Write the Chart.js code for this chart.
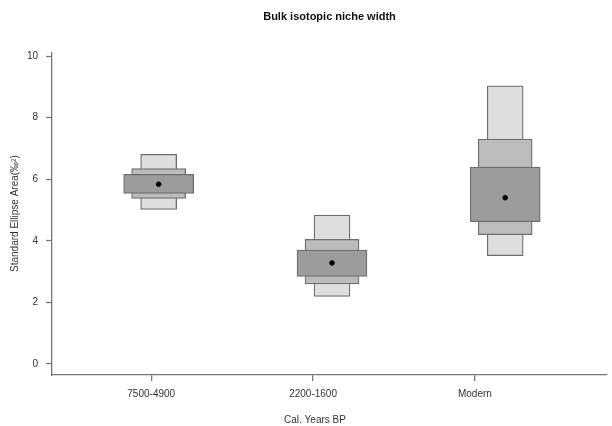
<!DOCTYPE html>
<html>
<head>
<meta charset="utf-8">
<script src="https://cdn.jsdelivr.net/npm/chart.js@4"></script>
<style>
  html, body { margin: 0; padding: 0; background: #fff; }
  #wrap { width: 612px; height: 426px; }
</style>
</head>
<body>
<div id="wrap"><canvas id="nicheChart" width="612" height="426"></canvas></div>
<script>
// Группы (ось X)
const groups = ['7500-4900', '2200-1600', 'Modern'];
const groupTicks = [1, 2, 3];
// centres of the boxes on the x scale
const groupPos = [1.046, 2.117, 3.187];

// SEA.B: mode and credible intervals
const seaMode = [5.84, 3.28, 5.40];
const ci95Low = [5.02, 2.19, 3.52];
const ci95High = [6.81, 4.84, 9.04];
const ci75Low = [5.38, 2.60, 4.20];
const ci75High = [6.35, 4.05, 7.31];
const ci50Low = [5.54, 2.84, 4.62];
const ci50High = [6.16, 3.70, 6.40];

const yTicks = [0, 2, 4, 6, 8, 10];

const axisColor = '#777777';
const textColor = '#333333';
const boxBorder = '#6e6e6e';

function boxData(lows, highs) {
    return groupPos.map((x, i) => ({ x: x, y: [lows[i], highs[i]] }));
}

function boxSet(label, lows, highs, color, width, order) {
    return {
        type: 'bar',
        label: label,
        data: boxData(lows, highs),
        backgroundColor: color,
        borderColor: boxBorder,
        borderWidth: 1.3,
        borderSkipped: false,
        barThickness: width,
        grouped: false,
        order: order
    };
}

// x-axis title sits a bit left of the plot centre, like the original
const xTitlePlugin = {
    id: 'xTitle',
    afterDraw(chart) {
        const ctx = chart.ctx;
        const area = chart.chartArea;
        ctx.save();
        ctx.font = '10px "Liberation Sans", Arial, sans-serif';
        ctx.fillStyle = textColor;
        ctx.textAlign = 'center';
        ctx.textBaseline = 'middle';
        ctx.fillText('Cal. Years BP', area.left + 263, 420);
        ctx.restore();
    }
};

const ctx = document.getElementById('nicheChart');
new Chart(ctx.getContext('2d'), {
    type: 'bar',
    data: {
        datasets: [
            {
                type: 'scatter',
                label: 'Mode',
                data: groupPos.map((x, i) => ({ x: x, y: seaMode[i] })),
                backgroundColor: '#000',
                borderColor: '#000',
                pointRadius: 2.3,
                order: 0
            },
            boxSet('50%', ci50Low, ci50High, '#9c9c9c', 70, 1),
            boxSet('75%', ci75Low, ci75High, '#bcbcbc', 54, 2),
            boxSet('95%', ci95Low, ci95High, '#dedede', 36, 3)
        ]
    },
    options: {
        responsive: false,
        animation: false,
        layout: { padding: { top: 0, right: 1, left: 0, bottom: 0 } },
        plugins: {
            legend: { display: false },
            tooltip: { enabled: false },
            title: {
                display: true,
                text: 'Bulk isotopic niche width',
                fullSize: false,
                color: '#111',
                font: { family: '"Liberation Sans", Arial, sans-serif', size: 11, weight: 'bold' },
                padding: { top: 10, bottom: 29 }
            }
        },
        scales: {
            x: {
                type: 'linear',
                offset: false,
                min: 0.387,
                max: 3.816,
                afterBuildTicks: (scale) => {
                    scale.ticks = groupTicks.map(v => ({ value: v }));
                },
                afterFit: (scale) => { scale.height = 51; },
                ticks: {
                    color: textColor,
                    font: { family: '"Liberation Sans", Arial, sans-serif', size: 10 },
                    padding: 7,
                    maxRotation: 0,
                    autoSkip: false,
                    callback: (v) => groups[groupTicks.indexOf(v)] || ''
                },
                grid: {
                    offset: false,
                    display: true,
                    drawOnChartArea: false,
                    drawTicks: true,
                    tickLength: 6,
                    color: axisColor,
                    tickColor: axisColor,
                    tickWidth: 1.3,
                    lineWidth: 1.3
                },
                border: { display: true, color: axisColor, width: 1.3 }
            },
            y: {
                type: 'linear',
                min: -0.36,
                max: 10.13,
                afterBuildTicks: (scale) => {
                    scale.ticks = yTicks.map(v => ({ value: v }));
                },
                afterFit: (scale) => { scale.width = 52; },
                ticks: {
                    color: textColor,
                    font: { family: '"Liberation Sans", Arial, sans-serif', size: 10 },
                    padding: 8
                },
                grid: {
                    drawOnChartArea: false,
                    drawTicks: true,
                    tickLength: 6,
                    color: axisColor,
                    tickWidth: 1.3
                },
                border: { display: true, color: axisColor, width: 1.3 },
                title: {
                    display: true,
                    text: 'Standard Ellipse Area(‰²)',
                    color: textColor,
                    font: { family: '"Liberation Sans", Arial, sans-serif', size: 10 },
                    padding: { top: 9, bottom: 0 }
                }
            }
        }
    },
    plugins: [xTitlePlugin]
});
</script>
</body>
</html>
